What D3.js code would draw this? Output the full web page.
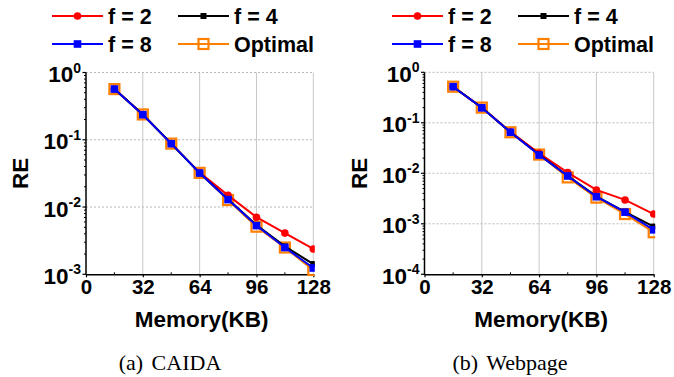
<!DOCTYPE html>
<html>
<head>
<meta charset="utf-8">
<script src="https://cdn.jsdelivr.net/npm/d3@7"></script>
<style>
  html, body { margin: 0; padding: 0; background: #fff; }
  svg { display: block; }
</style>
</head>
<body>
<svg id="chart" width="674" height="377"></svg>
<script>
// Memory budgets (KB) on the x axis
const memory = [16, 32, 48, 64, 80, 96, 112, 128];
const xTicks = [0, 32, 64, 96, 128];

// Relative error, CAIDA trace
const caidaF2  = [0.567, 0.238, 0.0877, 0.0325, 0.0149, 0.00705, 0.0041, 0.00238];
const caidaF4  = [0.567, 0.238, 0.0877, 0.032, 0.0131, 0.0054, 0.0026, 0.00142];
const caidaF8  = [0.567, 0.236, 0.0875, 0.032, 0.0129, 0.0053, 0.0025, 0.00124];
const caidaOpt = [0.567, 0.238, 0.0877, 0.0322, 0.0127, 0.0051, 0.0025, 0.00115];

// Relative error, Webpage trace
const webF2  = [0.519, 0.2, 0.066, 0.0249, 0.0103, 0.00468, 0.00297, 0.00156];
const webF4  = [0.519, 0.2, 0.065, 0.0235, 0.0089, 0.0035, 0.00173, 0.00088];
const webF8  = [0.519, 0.198, 0.065, 0.023, 0.00885, 0.00344, 0.0017, 0.00076];
const webOpt = [0.519, 0.2, 0.065, 0.0235, 0.0083, 0.0033, 0.00156, 0.00068];

const seriesNames = ["f = 2", "f = 4", "f = 8", "Optimal"];
const captions = ["(a) CAIDA", "(b) Webpage"];

const styles = {
  "f = 2":   { color: "#ff0000", marker: "circle", size: 3.8 },
  "f = 4":   { color: "#000000", marker: "square", size: 3 },
  "f = 8":   { color: "#0000ff", marker: "square", size: 3.8 },
  "Optimal": { color: "#ff8000", marker: "open",   size: 5 }
};

const panels = [
  { caption: captions[0], values: [caidaF2, caidaF4, caidaF8, caidaOpt],
    left: 86, right: 313.3, top: 72.5, bottom: 274.3, yMin: 1e-3,
    legendX: 52, capX: 170 },
  { caption: captions[1], values: [webF2, webF4, webF8, webOpt],
    left: 424.5, right: 653.7, top: 72.3, bottom: 274.3, yMin: 1e-4,
    legendX: 392, capX: 510 }
];

const svg = d3.select("#chart");
const sansBold = "Arial, 'Liberation Sans', sans-serif";

function drawMarker(g, style, x, y) {
  if (style.marker === "circle") {
    g.append("circle").attr("cx", x).attr("cy", y).attr("r", style.size)
      .attr("fill", style.color);
  } else if (style.marker === "square") {
    g.append("rect").attr("x", x - style.size).attr("y", y - style.size)
      .attr("width", style.size * 2).attr("height", style.size * 2)
      .attr("fill", style.color);
  } else {
    g.append("rect").attr("x", x - style.size).attr("y", y - style.size)
      .attr("width", style.size * 2).attr("height", style.size * 2)
      .attr("fill", "none").attr("stroke", style.color).attr("stroke-width", 2.2);
  }
}

panels.forEach((p, pi) => {
  const x = d3.scaleLinear().domain([0, 128]).range([p.left, p.right]);
  const y = d3.scaleLog().domain([p.yMin, 1]).range([p.bottom, p.top]);
  const g = svg.append("g");

  // vertical grid
  g.append("g").selectAll("line").data(xTicks.filter(d => d > 0)).join("line")
    .attr("x1", d => x(d)).attr("x2", d => x(d))
    .attr("y1", p.top).attr("y2", p.bottom)
    .attr("stroke", "#c8c8c8").attr("stroke-width", 1);

  // horizontal dotted grid at decades
  const decades = d3.range(Math.round(Math.log10(p.yMin)), 1).map(e => Math.pow(10, e));
  g.append("g").selectAll("line").data(decades.filter(d => d > p.yMin)).join("line")
    .attr("x1", p.left).attr("x2", p.right)
    .attr("y1", d => y(d)).attr("y2", d => y(d))
    .attr("stroke", "#b8b8b8").attr("stroke-width", 1)
    .attr("stroke-dasharray", "2,2");

  // x axis
  const xAxis = g.append("g").attr("transform", `translate(0,${p.bottom})`)
    .call(d3.axisBottom(x).tickValues(xTicks).tickSize(3).tickPadding(2)
      .tickSizeOuter(0));
  xAxis.select(".domain").attr("stroke", "#000").attr("stroke-width", 1.5);
  xAxis.selectAll(".tick line").attr("stroke-width", 1.2);
  xAxis.selectAll("text").attr("font-family", sansBold).attr("font-weight", "bold")
    .attr("font-size", 20.5).attr("fill", "#000").attr("dy", "0.72em");
  // minor x ticks
  g.append("g").selectAll("line").data([16, 48, 80, 112]).join("line")
    .attr("x1", d => x(d)).attr("x2", d => x(d))
    .attr("y1", p.bottom - 2).attr("y2", p.bottom)
    .attr("stroke", "#000").attr("stroke-width", 1);

  // y axis: line plus minor ticks
  g.append("line").attr("x1", p.left).attr("x2", p.left)
    .attr("y1", p.top).attr("y2", p.bottom + 0.75)
    .attr("stroke", "#000").attr("stroke-width", 1.5);
  const minors = [];
  decades.slice(0, -1).forEach(d => { for (let k = 2; k <= 9; k++) minors.push(d * k); });
  g.append("g").selectAll("line").data(minors).join("line")
    .attr("x1", p.left - 2).attr("x2", p.left)
    .attr("y1", d => y(d)).attr("y2", d => y(d))
    .attr("stroke", "#000").attr("stroke-width", 1);
  g.append("g").selectAll("line").data(decades).join("line")
    .attr("x1", p.left - 3.5).attr("x2", p.left)
    .attr("y1", d => y(d)).attr("y2", d => y(d))
    .attr("stroke", "#000").attr("stroke-width", 1.2);

  // y tick labels as 10^n
  const yl = g.append("g").selectAll("text").data(decades).join("text")
    .attr("x", p.left - 5).attr("y", d => y(d) + 9.5)
    .attr("text-anchor", "end")
    .attr("font-family", sansBold).attr("font-weight", "bold").attr("fill", "#000");
  yl.append("tspan").attr("font-size", 22.5).text("10");
  yl.append("tspan").attr("font-size", 14).attr("dy", -9.5)
    .text(d => { const e = Math.round(Math.log10(d)); return e < 0 ? "-" + (-e) : String(e); });

  // axis titles
  g.append("text").attr("transform", `translate(${p.left - 58},${(p.top + p.bottom) / 2}) rotate(-90)`)
    .attr("text-anchor", "middle").attr("font-family", sansBold).attr("font-weight", "bold")
    .attr("font-size", 22.5).attr("fill", "#000").text("RE");
  g.append("text").attr("x", (p.left + p.right) / 2 + 2).attr("y", 326.5)
    .attr("text-anchor", "middle").attr("font-family", sansBold).attr("font-weight", "bold")
    .attr("font-size", 22.5).attr("fill", "#000").text("Memory(KB)");

  // caption
  g.append("text").attr("x", p.capX).attr("y", 370)
    .attr("text-anchor", "middle").attr("font-family", "'Liberation Serif', 'Times New Roman', serif")
    .attr("font-size", 22).attr("fill", "#000").attr("word-spacing", 3).text(p.caption);

  // series, clipped to the plot area
  const clipId = "clip" + pi;
  svg.append("clipPath").attr("id", clipId).append("rect")
    .attr("x", p.left).attr("y", p.top - 8)
    .attr("width", p.right - p.left + 1.5).attr("height", p.bottom - p.top + 10);
  const plot = g.append("g").attr("clip-path", `url(#${clipId})`);
  const line = d3.line().x(d => x(d[0])).y(d => y(d[1]));
  // draw optimal first so the f-series sit on top
  const order = [3, 0, 1, 2];
  order.forEach(si => {
    const st = styles[seriesNames[si]];
    const pts = memory.map((m, i) => [m, p.values[si][i]]);
    plot.append("path").datum(pts).attr("d", line)
      .attr("fill", "none").attr("stroke", st.color).attr("stroke-width", 2);
    const mg = plot.append("g");
    pts.forEach(pt => drawMarker(mg, st, x(pt[0]), y(pt[1])));
  });

  // legend
  const lg = g.append("g");
  const cols = [p.legendX, p.legendX + 126];
  const rows = [16, 44];
  const legendPos = [[0, 0], [1, 0], [0, 1], [1, 1]];
  seriesNames.forEach((name, i) => {
    const st = styles[name];
    const lx = cols[legendPos[i][0]], ly = rows[legendPos[i][1]];
    lg.append("line").attr("x1", lx).attr("x2", lx + 51).attr("y1", ly).attr("y2", ly)
      .attr("stroke", st.color).attr("stroke-width", 2);
    drawMarker(lg, st, lx + 25.5, ly);
    lg.append("text").attr("x", lx + 56).attr("y", ly + 7.5)
      .attr("font-family", sansBold).attr("font-weight", "bold")
      .attr("font-size", 21.5).attr("fill", "#000").text(name);
  });
});
</script>
</body>
</html>
